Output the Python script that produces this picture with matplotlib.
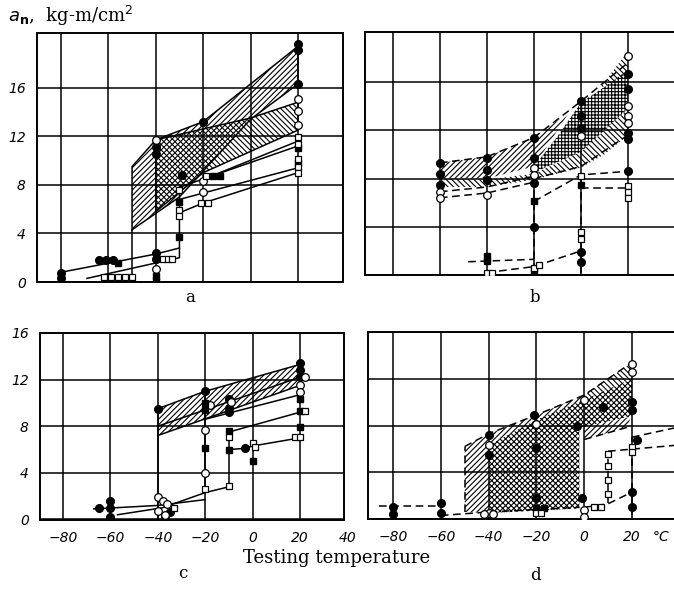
import matplotlib.pyplot as plt

# ---------------- panel a ----------------
A_BAND1_T = [-50, -50, -40, -20, 20, 20, 0, -30]
A_BAND1_V = [4.3, 9.5, 11.7, 13.2, 19.4, 16.3, 13.4, 7.0]
A_BAND2_T = [-40, 0, 20, 20, -20, -40]
A_BAND2_V = [11.7, 13.5, 14.8, 12.5, 9.0, 5.8]

A_LOW1_T = [-80, -40, -30]
A_LOW1_V = [0.8, 2.3, 2.8]
A_LOW2_T = [-69, -30, -30]
A_LOW2_V = [0.3, 2.0, 7.8]
A_EDGE_T = [-50, -50]
A_EDGE_V = [0.0, 4.3]
A_L1_T = [-30, 20]
A_L1_V = [7.8, 11.2]
A_L2_T = [-30, 20]
A_L2_V = [6.8, 9.4]
A_L3_T = [-30, -20, 20]
A_L3_V = [5.7, 6.5, 9.0]
A_L4_T = [-18, 20]
A_L4_V = [8.6, 11.6]

A_FC_T = [-80, -80, -64, -61, -58, -40, -40, -40, -40, -29, -20, 20, 20, 20]
A_FC_V = [0.7, 0.3, 1.8, 1.8, 1.8, 2.4, 1.9, 11.1, 10.5, 8.8, 13.2, 19.6, 19.1, 16.3]
A_OC_T = [-40, -40, -20, -20, 20, 20, 20]
A_OC_V = [11.7, 1.1, 8.3, 7.4, 15.1, 14.1, 12.9]
A_FS_T = [-56, -40, -40, -30, -30, -16, -13, 20, 20]
A_FS_V = [1.6, 0.5, 0.1, 3.7, 6.6, 8.7, 8.7, 11.0, 9.8]
A_OS_T = [-62, -59, -56, -53, -50, -37, -35, -33, -30, -30, -30, -21, -18, -19, 20, 20, 20, 20, 20]
A_OS_V = [0.4, 0.4, 0.4, 0.4, 0.4, 1.9, 1.9, 1.9, 7.6, 5.9, 5.4, 6.5, 6.5, 8.7, 11.9, 11.4, 10.1, 9.5, 9.0]

# ---------------- panel b ----------------
B_SLASH_T = [-60, -40, -20, -5, -20, -40, -60]
B_SLASH_V = [9.3, 9.8, 11.4, 13.5, 9.0, 8.0, 8.0]
B_GRID_T = [-22, -10, 0, 10, 20, 20, 10, 0, -20]
B_GRID_V = [8.5, 11.5, 14.3, 15.6, 17.0, 13.8, 12.0, 10.2, 8.5]
B_BACK_T = [-60, -40, -20, 0, 10, 20, 20, 10, 0, -20, -40, -60]
B_BACK_V = [8.0, 7.9, 8.4, 10.2, 12.0, 13.8, 11.6, 10.0, 8.9, 7.9, 7.3, 7.3]
B_BACK2_T = [8, 19, 20, 20]
B_BACK2_V = [15.5, 18.3, 18.0, 16.5]

B_TOP_T = [-60, -40, -20, 0, 20]
B_TOP_V = [9.3, 9.8, 11.4, 14.4, 17.6]
B_MID_T = [-20, 0, 20]
B_MID_V = [8.0, 9.0, 11.6]
B_LOWA_T = [-60, -40, -20]
B_LOWA_V = [6.9, 7.3, 8.2]
B_LOWB_T = [-60, -40, -20]
B_LOWB_V = [6.4, 6.8, 7.7]
B_STEP_T = [-20, 0, 20]
B_STEP_V = [6.1, 8.3, 8.6]
B_HOR_T = [0, 20]
B_HOR_V = [7.2, 7.2]
B_V1_T = [-20, -20]
B_V1_V = [0.3, 8.0]
B_V2_T = [0, 0]
B_V2_V = [0.2, 8.3]
B_BOT1_T = [-48, -20]
B_BOT1_V = [1.1, 1.3]
B_BOT2_T = [-40, -20, 0]
B_BOT2_V = [0.2, 0.7, 2.0]

B_FC_T = [-60, -60, -60, -40, -40, -40, -20, -20, -20, -20, 0, 0, 0, 20, 20, 20, 20, 20, 0, 0]
B_FC_V = [9.3, 8.4, 7.5, 9.7, 8.7, 7.9, 11.4, 9.7, 7.6, 4.0, 14.4, 13.2, 12.2, 16.7, 15.4, 11.8, 11.3, 8.6, 1.9, 1.1]
B_OC_T = [-60, -60, -40, -20, -20, 0, 20, 20, 20, 20]
B_OC_V = [6.9, 6.4, 6.6, 8.9, 8.3, 11.5, 18.2, 14.0, 13.2, 12.6]
B_FS_T = [-20, 0, -40, -40, -20]
B_FS_V = [6.1, 7.5, 1.6, 1.2, 0.3]
B_OS_T = [-40, -38, -20, -18, 0, 0, 0, 20, 20, 20]
B_OS_V = [0.2, 0.2, 0.6, 0.8, 8.2, 3.6, 3.0, 7.4, 6.9, 6.4]

# ---------------- panel c ----------------
C_BAND_T = [-40, -20, 20, 20, -40]
C_BAND_V = [9.5, 11.0, 13.3, 11.5, 7.2]
C_TOP_T = [-40, -20, 20]
C_TOP_V = [9.5, 11.0, 13.3]
C_L2_T = [-40, 20]
C_L2_V = [8.0, 12.2]
C_L3_T = [-40, 20]
C_L3_V = [7.2, 11.5]
C_L4_T = [-20, 20]
C_L4_V = [8.6, 10.7]
C_L5_T = [-10, 20]
C_L5_V = [7.5, 9.2]
C_L6_T = [-10, -3, 0, 20]
C_L6_V = [6.0, 6.1, 6.3, 7.0]
C_V1_T = [-40, -40]
C_V1_V = [0.0, 9.5]
C_V2_T = [-20, -20]
C_V2_V = [2.5, 11.0]
C_V3_T = [-10, -10]
C_V3_V = [2.9, 7.6]
C_LOW1_T = [-67, -40, -20]
C_LOW1_V = [0.9, 1.2, 1.7]
C_LOW2_T = [-57, -38, -20, -10]
C_LOW2_V = [0.4, 1.0, 2.3, 2.8]

C_FC_T = [-65, -60, -60, -60, -37, -35, -40, -20, -10, -10, -10, -3, 20, 20, 20]
C_FC_V = [1.0, 1.6, 1.0, 0.2, 0.3, 0.6, 9.5, 11.0, 10.3, 9.6, 9.2, 6.1, 13.4, 12.8, 12.2]
C_OC_T = [-40, -38, -36, -40, -37, -18, -20, -20, -9, 22, 20, 20]
C_OC_V = [1.9, 1.6, 1.3, 0.7, 0.4, 9.8, 7.7, 4.0, 10.1, 12.2, 11.5, 10.9]
C_FS_T = [-20, -20, -20, -10, -10, 0, 20, 20, 20]
C_FS_V = [10.0, 9.4, 6.1, 7.6, 6.0, 5.0, 10.3, 9.3, 7.9]
C_OS_T = [-33, -20, -10, -10, 0, 1, 22, 18, 20]
C_OS_V = [1.0, 2.6, 7.1, 2.9, 6.6, 6.2, 9.3, 7.1, 7.1]

# ---------------- panel d ----------------
D_SLASH_T = [-50, -50, -40, -20, 0, 0, -20, -40, -40]
D_SLASH_V = [0.6, 6.2, 7.3, 8.9, 10.6, 10.2, 8.5, 6.3, 0.5]
D_SLASH2_T = [0, 0, 19, 19]
D_SLASH2_V = [6.8, 7.9, 8.7, 7.9]
D_CROSS_T = [-40, -40, -20, 0, 20, 20, 0, -2, -2]
D_CROSS_V = [0.5, 6.3, 8.5, 10.2, 12.0, 8.8, 7.9, 7.9, 0.9]
D_BACK_T = [0, 20, 20, 0]
D_BACK_V = [10.6, 13.4, 12.0, 10.2]

D_TOP_T = [-50, -40, -20, 0, 20]
D_TOP_V = [6.2, 7.3, 8.9, 10.6, 13.4]
D_LEFT_T = [-50, -50]
D_LEFT_V = [0.6, 6.2]
D_LOW1_T = [-86, -60]
D_LOW1_V = [1.1, 1.1]
D_LOW2_T = [-60, -40, -2]
D_LOW2_V = [0.3, 0.6, 1.0]
D_R1_T = [0, 10, 20]
D_R1_V = [1.0, 1.3, 2.3]
D_R2_T = [10, 10]
D_R2_V = [1.4, 5.8]
D_R3_T = [10, 38]
D_R3_V = [5.8, 6.3]
D_R4_T = [20, 38]
D_R4_V = [7.0, 7.8]
D_R5_T = [20, 20]
D_R5_V = [0.3, 7.0]
D_SLOPE_T = [0, 19]
D_SLOPE_V = [6.8, 7.9]

D_FC_T = [-80, -80, -60, -60, -40, -40, -21, -20, -20, -3, -1, 8, 20, 20, 20, 20, 22]
D_FC_V = [1.0, 0.4, 1.4, 0.5, 7.2, 5.5, 8.9, 6.1, 1.8, 8.0, 1.8, 9.6, 10.0, 9.3, 2.3, 1.0, 6.8]
D_OC_T = [-40, -40, -42, -38, -20, 0, 0, 0, 20, 20]
D_OC_V = [6.3, 0.5, 0.4, 0.4, 8.1, 10.2, 0.8, 0.2, 13.3, 12.6]
D_FS_T = [-20, -17]
D_FS_V = [0.9, 0.9]
D_OS_T = [-20, -18, 4, 7, 10, 10, 10, 10, 20, 20]
D_OS_V = [0.5, 0.5, 1.0, 1.0, 5.6, 4.5, 3.3, 2.1, 6.2, 5.7]

X_TICKS = [-80, -60, -40, -20, 0, 20]
Y_TICKS = [0, 4, 8, 12, 16]

W, H = 674, 591
plt.rcParams['hatch.linewidth'] = 0.8
TICK_FONT = dict(family='DejaVu Sans', style='italic', size=10)
SERIF = 'DejaVu Serif'


def make_axes(fig, left, right, top, bottom, xlim, ylim):
    ax = fig.add_axes([left / W, 1 - bottom / H, (right - left) / W, (bottom - top) / H])
    ax.set_xlim(*xlim)
    ax.set_ylim(*ylim)
    ax.set_xticks(X_TICKS)
    ax.set_yticks(Y_TICKS)
    ax.set_axisbelow(True)
    ax.grid(True, color='black', lw=1.1)
    ax.tick_params(length=0, labelbottom=False, labelleft=False)
    for s in ax.spines.values():
        s.set_linewidth(1.4)
    return ax


def band(ax, t, v, hatch):
    ax.fill(t, v, facecolor='none', edgecolor='black', hatch=hatch, lw=0, zorder=1)


def line(ax, t, v, dashed=False):
    ax.plot(t, v, color='black', lw=1.1, ls=(0, (5, 3)) if dashed else '-', zorder=2)


def marks(ax, fc, oc, fs, os_):
    ax.plot(*fc, 'o', ms=5.5, mfc='black', mec='black', ls='none', zorder=3)
    ax.plot(*oc, 'o', ms=5.5, mfc='white', mec='black', mew=0.9, ls='none', zorder=3)
    ax.plot(*fs, 's', ms=5, mfc='black', mec='black', ls='none', zorder=3)
    ax.plot(*os_, 's', ms=5, mfc='white', mec='black', mew=0.9, ls='none', zorder=3)


fig = plt.figure(figsize=(W / 100, H / 100), dpi=100)

# panel a
ax_a = make_axes(fig, 37, 343, 33, 282, (-90.1, 39.0), (0, 20.5))
band(ax_a, A_BAND1_T, A_BAND1_V, '//////')
band(ax_a, A_BAND2_T, A_BAND2_V, '\\\\\\\\\\\\')
line(ax_a, A_BAND1_T + A_BAND1_T[:1], A_BAND1_V + A_BAND1_V[:1])
line(ax_a, A_BAND2_T + A_BAND2_T[:1], A_BAND2_V + A_BAND2_V[:1])
for t, v in [(A_LOW1_T, A_LOW1_V), (A_LOW2_T, A_LOW2_V), (A_EDGE_T, A_EDGE_V),
             (A_L1_T, A_L1_V), (A_L2_T, A_L2_V), (A_L3_T, A_L3_V), (A_L4_T, A_L4_V)]:
    line(ax_a, t, v)
marks(ax_a, (A_FC_T, A_FC_V), (A_OC_T, A_OC_V), (A_FS_T, A_FS_V), (A_OS_T, A_OS_V))
ax_a.tick_params(labelleft=True, pad=8)

# panel b
ax_b = make_axes(fig, 365, 690, 32, 275, (-91.9, 46.4), (0, 20.15))
band(ax_b, B_SLASH_T, B_SLASH_V, '//////')
band(ax_b, B_GRID_T, B_GRID_V, '+++++')
band(ax_b, B_BACK_T, B_BACK_V, '\\\\\\\\\\\\')
band(ax_b, B_BACK2_T, B_BACK2_V, '\\\\\\\\\\\\')
for t, v in [(B_TOP_T, B_TOP_V), (B_MID_T, B_MID_V), (B_LOWA_T, B_LOWA_V), (B_LOWB_T, B_LOWB_V),
             (B_STEP_T, B_STEP_V), (B_HOR_T, B_HOR_V), (B_V1_T, B_V1_V), (B_V2_T, B_V2_V),
             (B_BOT1_T, B_BOT1_V), (B_BOT2_T, B_BOT2_V)]:
    line(ax_b, t, v, dashed=True)
marks(ax_b, (B_FC_T, B_FC_V), (B_OC_T, B_OC_V), (B_FS_T, B_FS_V), (B_OS_T, B_OS_V))

# panel c
ax_c = make_axes(fig, 40, 344, 333, 520, (-89.7, 38.6), (-0.05, 16))
band(ax_c, C_BAND_T, C_BAND_V, '//////')
for t, v in [(C_TOP_T, C_TOP_V), (C_L2_T, C_L2_V), (C_L3_T, C_L3_V), (C_L4_T, C_L4_V),
             (C_L5_T, C_L5_V), (C_L6_T, C_L6_V), (C_V1_T, C_V1_V), (C_V2_T, C_V2_V),
             (C_V3_T, C_V3_V), (C_LOW1_T, C_LOW1_V), (C_LOW2_T, C_LOW2_V)]:
    line(ax_c, t, v)
marks(ax_c, (C_FC_T, C_FC_V), (C_OC_T, C_OC_V), (C_FS_T, C_FS_V), (C_OS_T, C_OS_V))
ax_c.tick_params(labelleft=True, labelbottom=True, pad=8)
ax_c.annotate('40', xy=(40, 0), xycoords=('data', 'axes fraction'), xytext=(0, -8),
              textcoords='offset points', ha='center', va='top', annotation_clip=False, **TICK_FONT)

# panel d
ax_d = make_axes(fig, 368, 690, 332, 519, (-90.5, 44.3), (0, 16))
band(ax_d, D_SLASH_T, D_SLASH_V, '//////')
band(ax_d, D_SLASH2_T, D_SLASH2_V, '//////')
band(ax_d, D_CROSS_T, D_CROSS_V, 'xxxxxx')
band(ax_d, D_BACK_T, D_BACK_V, '\\\\\\\\\\\\')
for t, v in [(D_TOP_T, D_TOP_V), (D_LEFT_T, D_LEFT_V), (D_LOW1_T, D_LOW1_V), (D_LOW2_T, D_LOW2_V),
             (D_R1_T, D_R1_V), (D_R2_T, D_R2_V), (D_R3_T, D_R3_V), (D_R4_T, D_R4_V),
             (D_R5_T, D_R5_V), (D_SLOPE_T, D_SLOPE_V)]:
    line(ax_d, t, v, dashed=True)
marks(ax_d, (D_FC_T, D_FC_V), (D_OC_T, D_OC_V), (D_FS_T, D_FS_V), (D_OS_T, D_OS_V))
ax_d.tick_params(labelbottom=True, pad=8)
ax_d.annotate('°C', xy=(32, 0), xycoords=('data', 'axes fraction'), xytext=(0, -8),
              textcoords='offset points', ha='center', va='top', annotation_clip=False, **TICK_FONT)

for ax in (ax_a, ax_b, ax_c, ax_d):
    for lab in ax.get_xticklabels() + ax.get_yticklabels():
        lab.set_fontstyle('italic')
        lab.set_fontsize(10)

# texts
fig.text(190 / W, 1 - 297 / H, 'a', family=SERIF, fontsize=12, ha='center', va='center')
fig.text(535 / W, 1 - 297 / H, 'b', family=SERIF, fontsize=12, ha='center', va='center')
fig.text(183 / W, 1 - 573 / H, 'c', family=SERIF, fontsize=12, ha='center', va='center')
fig.text(535 / W, 1 - 575 / H, 'd', family=SERIF, fontsize=12, ha='center', va='center')
fig.text(337 / W, 1 - 558 / H, 'Testing temperature', family=SERIF, fontsize=13,
         ha='center', va='center')
fig.text(8 / W, 1 - 16 / H, r'$a_\mathbf{n}$,  kg-m/cm$^2$', family=SERIF, fontsize=13,
         ha='left', va='center')

fig.savefig('out.png', dpi=100)
